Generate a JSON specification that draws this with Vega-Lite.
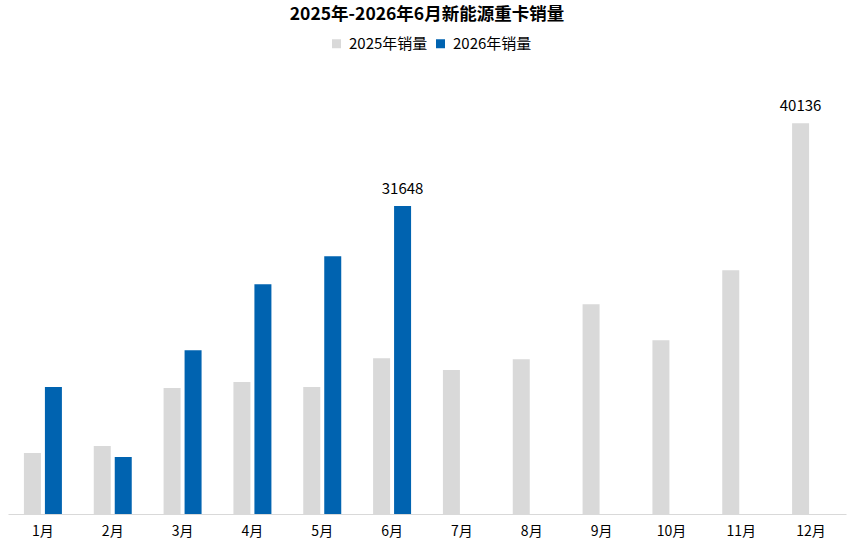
{
  "$schema": "https://vega.github.io/schema/vega-lite/v6.json",
  "width": 838,
  "height": 438,
  "autosize": {"type": "none"},
  "padding": {"left": 8, "top": 76, "right": 5, "bottom": 38},
  "background": "white",
  "config": {
    "font": "Noto Sans CJK SC",
    "view": {"stroke": null}
  },
  "title": {
    "text": "2025年-2026年6月新能源重卡销量",
    "fontSize": 17.5,
    "fontWeight": "bold",
    "color": "#000000",
    "anchor": "middle",
    "frame": "group",
    "offset": 13
  },
  "data": {
    "values": [
      {"month": "1月", "series": "2025年销量", "value": 6262},
      {"month": "2月", "series": "2025年销量", "value": 6980},
      {"month": "3月", "series": "2025年销量", "value": 12934},
      {"month": "4月", "series": "2025年销量", "value": 13550},
      {"month": "5月", "series": "2025年销量", "value": 13037},
      {"month": "6月", "series": "2025年销量", "value": 16013},
      {"month": "7月", "series": "2025年销量", "value": 14782},
      {"month": "8月", "series": "2025年销量", "value": 15911},
      {"month": "9月", "series": "2025年销量", "value": 21556},
      {"month": "10月", "series": "2025年销量", "value": 17861},
      {"month": "11月", "series": "2025年销量", "value": 25047},
      {"month": "12月", "series": "2025年销量", "value": 40136},
      {"month": "1月", "series": "2026年销量", "value": 13037},
      {"month": "2月", "series": "2026年销量", "value": 5851},
      {"month": "3月", "series": "2026年销量", "value": 16835},
      {"month": "4月", "series": "2026年销量", "value": 23610},
      {"month": "5月", "series": "2026年销量", "value": 26484},
      {"month": "6月", "series": "2026年销量", "value": 31648}
    ]
  },
  "encoding": {
    "x": {
      "field": "month",
      "type": "nominal",
      "sort": ["1月","2月","3月","4月","5月","6月","7月","8月","9月","10月","11月","12月"],
      "scale": {"paddingInner": 0.456, "paddingOuter": 0.228},
      "axis": {
        "title": null,
        "labelAngle": 0,
        "labelFontSize": 14,
        "labelColor": "#000000",
        "labelPadding": 10,
        "ticks": false,
        "domainColor": "#d9d9d9",
        "domainWidth": 1
      }
    },
    "xOffset": {
      "field": "series",
      "type": "nominal",
      "scale": {"paddingInner": 0.19, "paddingOuter": 0}
    },
    "y": {
      "field": "value",
      "type": "quantitative",
      "scale": {"domain": [0, 45000], "nice": false},
      "axis": null
    }
  },
  "layer": [
    {
      "mark": {"type": "bar"},
      "encoding": {
        "color": {
          "field": "series",
          "type": "nominal",
          "scale": {"domain": ["2025年销量", "2026年销量"], "range": ["#d9d9d9", "#0063b0"]},
          "legend": {
            "title": null,
            "orient": "none",
            "direction": "horizontal",
            "legendX": 321,
            "legendY": -40,
            "symbolType": "square",
            "symbolSize": 81,
            "symbolStrokeWidth": 0,
            "labelFontSize": 15,
            "labelColor": "#000000",
            "labelOffset": 5,
            "columnPadding": 5
          }
        }
      }
    },
    {
      "transform": [
        {"joinaggregate": [{"op": "max", "field": "value", "as": "maxv"}], "groupby": ["series"]},
        {"filter": "datum.value == datum.maxv"}
      ],
      "mark": {"type": "text", "dy": -17, "fontSize": 15, "color": "#000000"},
      "encoding": {
        "text": {"field": "value", "type": "quantitative", "format": "d"}
      }
    }
  ]
}
